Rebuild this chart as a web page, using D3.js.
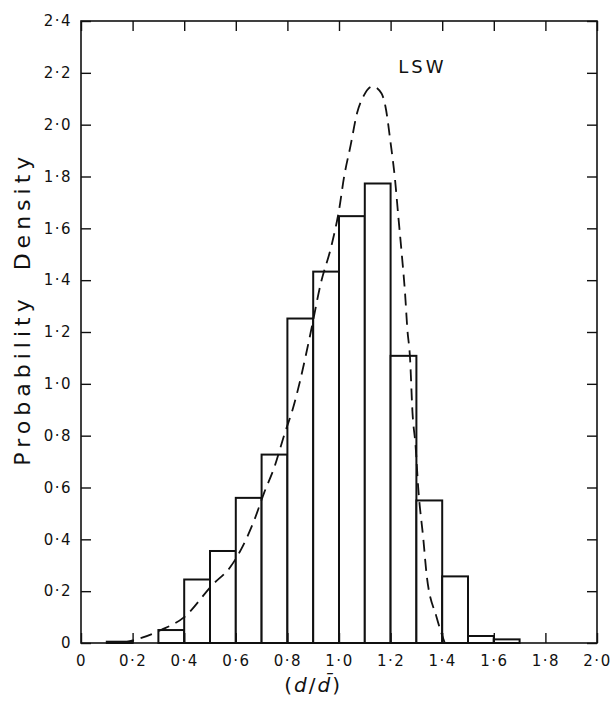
<!DOCTYPE html>
<html>
<head>
<meta charset="utf-8">
<script src="https://cdn.jsdelivr.net/npm/d3@7"></script>
<style>
  html, body { margin: 0; padding: 0; background: #fff; }
  svg { display: block; }
  text { font-family: "DejaVu Sans", sans-serif; fill: #111; }
</style>
</head>
<body>
<div id="chart"></div>
<script>
// histogram bins (left edges, width 0.1) and measured probability density
var binLeft   = [0.1, 0.2, 0.3, 0.4, 0.5, 0.6, 0.7, 0.8, 0.9, 1.0, 1.1, 1.2, 1.3, 1.4, 1.5, 1.6];
var density   = [0.005, 0, 0.05, 0.245, 0.355, 0.56, 0.727, 1.252, 1.433, 1.647, 1.773, 1.108, 0.55, 0.257, 0.027, 0.014];
var binWidth  = 0.1;

// LSW curve
var lswX = [0.16, 0.21, 0.31, 0.40, 0.51, 0.58, 0.62, 0.67, 0.71, 0.75, 0.79, 0.82, 0.85, 0.89, 0.93, 0.97, 1.00, 1.02, 1.045, 1.07, 1.095, 1.13, 1.165, 1.18, 1.20, 1.217, 1.23, 1.243, 1.256, 1.265, 1.275, 1.285, 1.297, 1.307, 1.327, 1.34, 1.378, 1.41];
var lswY = [0, 0.012, 0.05, 0.10, 0.225, 0.295, 0.36, 0.47, 0.58, 0.68, 0.81, 0.90, 1.015, 1.197, 1.39, 1.53, 1.67, 1.80, 1.92, 2.045, 2.11, 2.148, 2.12, 2.07, 1.93, 1.79, 1.645, 1.504, 1.35, 1.21, 1.105, 0.887, 0.758, 0.6, 0.4, 0.26, 0.10, 0];

var xTicks = [0, 0.2, 0.4, 0.6, 0.8, 1.0, 1.2, 1.4, 1.6, 1.8, 2.0];
var yTicks = [0, 0.2, 0.4, 0.6, 0.8, 1.0, 1.2, 1.4, 1.6, 1.8, 2.0, 2.2, 2.4];

var width = 611,
    height = 703,
    margin = { top: 21, right: 14, bottom: 60, left: 81 },
    w = width - margin.left - margin.right,
    h = height - margin.top - margin.bottom
;

var x = d3.scaleLinear().domain([0, 2]).range([0, w]);
var y = d3.scaleLinear().domain([0, 2.4]).range([h, 0]);

function fmt(v)
{
  if( v === 0 ) return '0';
  return v.toFixed(1).replace('.', '\u00b7');
}

var svg = d3.select('#chart')
  .append('svg')
    .attr('width', width)
    .attr('height', height);

var g = svg.append('g')
  .attr('transform', 'translate(' + margin.left + ',' + margin.top + ')');

// bars
g.selectAll('rect.bar')
  .data(binLeft)
  .enter()
    .append('rect')
    .attr('class', 'bar')
    .attr('x', function(d) { return x(d); })
    .attr('width', x(binWidth) - x(0))
    .attr('y', function(d, i) { return y(density[i]); })
    .attr('height', function(d, i) { return y(0) - y(density[i]); })
    .attr('fill', '#fff')
    .attr('stroke', '#111')
    .attr('stroke-width', 2);

// LSW dashed curve
var line = d3.line()
  .x(function(d) { return x(d[0]); })
  .y(function(d) { return y(d[1]); })
  .curve(d3.curveMonotoneX);

g.append('path')
  .datum(lswX.map(function(v, i) { return [v, lswY[i]]; }))
  .attr('d', line)
  .attr('fill', 'none')
  .attr('stroke', '#111')
  .attr('stroke-width', 1.8)
  .attr('stroke-dasharray', '12,7');

// frame
g.append('rect')
  .attr('x', 0).attr('y', 0)
  .attr('width', w).attr('height', h)
  .attr('fill', 'none')
  .attr('stroke', '#111')
  .attr('stroke-width', 1.6);

// axes, ticks pointing inwards on all four sides
var tl = 10;
g.append('g')
  .attr('transform', 'translate(0,' + h + ')')
  .call(d3.axisBottom(x).tickValues(xTicks).tickSize(-tl).tickPadding(12).tickFormat(fmt));
g.append('g')
  .call(d3.axisTop(x).tickValues(xTicks).tickSize(-tl).tickFormat(''));
g.append('g')
  .call(d3.axisLeft(y).tickValues(yTicks).tickSize(-tl).tickPadding(9).tickFormat(fmt));
g.append('g')
  .attr('transform', 'translate(' + w + ',0)')
  .call(d3.axisRight(y).tickValues(yTicks).tickSize(-tl).tickFormat(''));

g.selectAll('.domain').remove();
g.selectAll('.tick line').attr('stroke', '#111').attr('stroke-width', 1.4);
g.selectAll('.tick text')
  .style('font-family', '"DejaVu Sans", sans-serif')
  .style('font-size', '15px')
  .style('letter-spacing', '1.5px')
  .attr('fill', '#111');

// LSW label
g.append('text')
  .attr('x', x(1.23))
  .attr('y', y(2.2))
  .style('font-size', '18px')
  .style('letter-spacing', '3px')
  .text('LSW');

// y title
svg.append('text')
  .attr('transform', 'translate(30,' + (margin.top + y(1.29)) + ') rotate(-90)')
  .attr('text-anchor', 'middle')
  .style('font-size', '22px')
  .style('letter-spacing', '5px')
  .attr('xml:space', 'preserve')
  .text('Probability  Density');

// x title
var xt = svg.append('text')
  .attr('x', margin.left + x(0.9))
  .attr('y', 692)
  .attr('text-anchor', 'middle')
  .style('font-size', '20px')
  .style('letter-spacing', '2px');
xt.append('tspan').text('(');
xt.append('tspan').style('font-style', 'italic').text('d');
xt.append('tspan').text('/');
xt.append('tspan').style('font-style', 'italic').text('d\u0304');
xt.append('tspan').text(')');
</script>
</body>
</html>
